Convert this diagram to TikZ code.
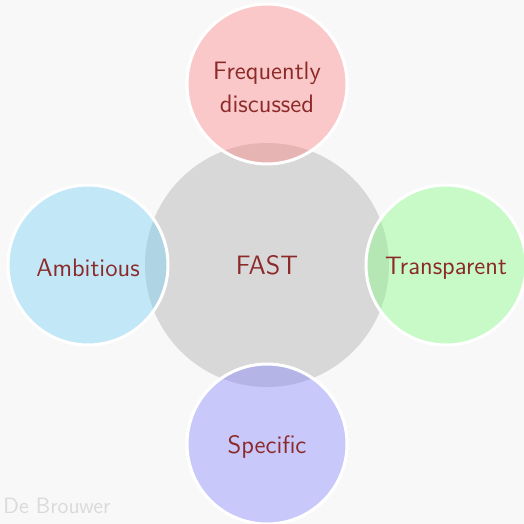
\documentclass[tikz,border=0pt]{standalone}
\usepackage{xcolor}
\definecolor{bgc}{RGB}{248,248,248}
\definecolor{ctr}{RGB}{216,216,216}
\definecolor{txt}{RGB}{140,42,42}
\definecolor{cA}{RGB}{255,128,128}
\definecolor{cB}{RGB}{115,208,248}
\definecolor{cC}{RGB}{128,255,128}
\definecolor{cD}{RGB}{128,128,253}
\definecolor{mark}{RGB}{218,218,218}
\begin{document}
\begin{tikzpicture}[x=0.5pt,y=-0.5pt,
  sat/.style={circle,draw=white,line width=1.5pt,fill opacity=0.4,minimum size=160*0.5pt,inner sep=0pt},
  lbl/.style={text=txt,font=\sffamily\fontsize{12.6}{16.5}\selectfont,align=center,inner sep=0pt,yshift=-1.5pt},
  hub/.style={circle,fill=ctr,minimum size=244*0.5pt,inner sep=0pt,text=txt,font=\sffamily\fontsize{13.3}{16}\selectfont}]
\fill[bgc] (0,0) rectangle (524,524);
\useasboundingbox (0,0) rectangle (524,524);
\node[hub] (c) at (267,265) {FAST};
\node[sat,fill=cA] (f) at (267,84) {};
\node[sat,fill=cB] (a) at (88,265) {};
\node[sat,fill=cC] (t) at (446,265) {};
\node[sat,fill=cD] (s) at (267,444) {};
\node[lbl] (fl) at (f.center) {Frequently\\discussed};
\node[lbl] (al) at (a.center) {Ambitious};
\node[lbl] (tl) at (t.center) {Transparent};
\node[lbl] (sl) at (s.center) {Specific};
\node[anchor=west,text=mark,font=\sffamily\fontsize{11.1}{13}\selectfont,inner sep=0pt] (db) at (3,506) {De Brouwer};
\end{tikzpicture}
\end{document}
